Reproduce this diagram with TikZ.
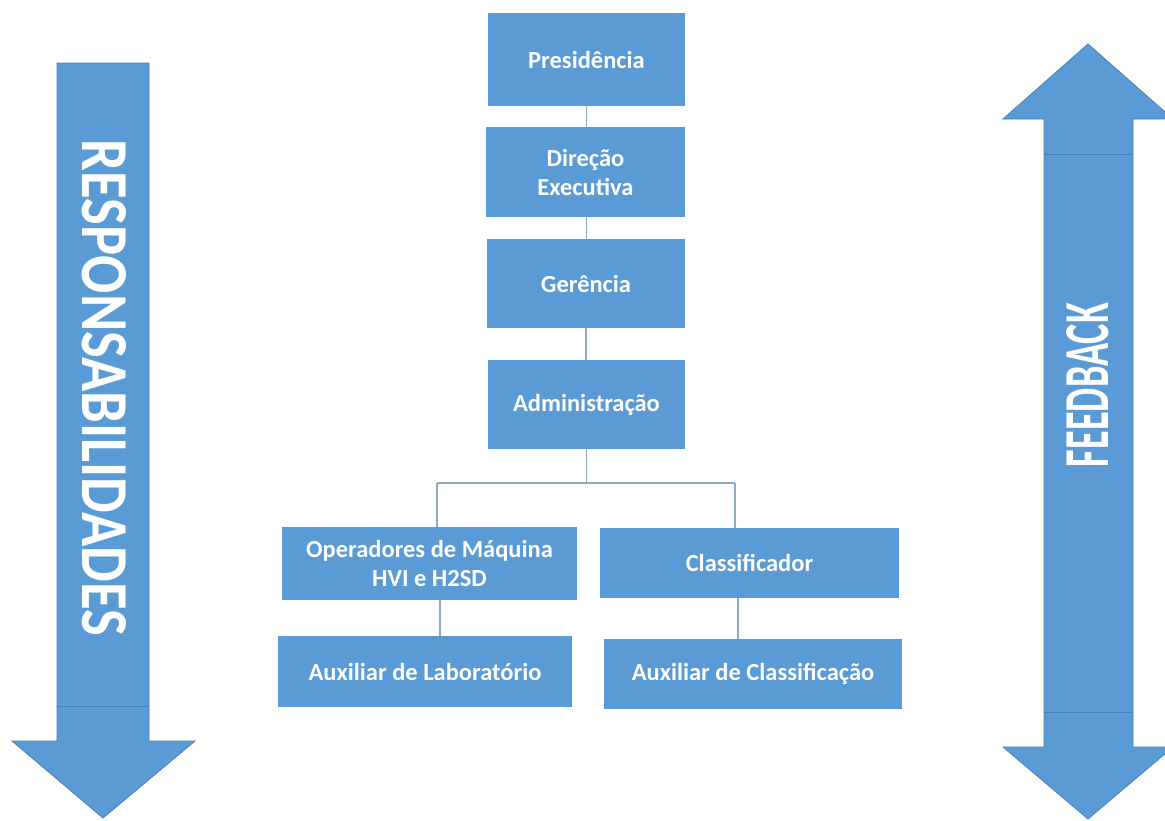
\documentclass[tikz,border=0pt]{standalone}
\usepackage{fontspec}
\setmainfont{Carlito}
\usepackage{graphicx}
\definecolor{boxblue}{HTML}{5B9BD5}
\definecolor{edgeblue}{HTML}{4A7FB5}
\definecolor{linkgray}{HTML}{8DA9C4}
\tikzset{
  orgbox/.style={fill=boxblue, draw=none, text=white, align=center,
    font=\bfseries\fontsize{24.5}{29}\selectfont, inner sep=0pt},
  link/.style={draw=linkgray, line width=1.2pt},
  bigarrow/.style={fill=boxblue, draw=edgeblue, line width=0.8pt, line join=miter},
  seam/.style={draw=edgeblue, line width=0.8pt},
  arrowtext/.style={text=white, inner sep=0pt, font=\bfseries}
}
\begin{document}
\begin{tikzpicture}[x=1pt,y=-1pt]
\useasboundingbox (0,0) rectangle (1165,820);
\clip (0,0) rectangle (1165,820);
\fill[white] (0,0) rectangle (1165,820);

% left arrow: responsabilidades
\draw[bigarrow] (57,63) -- (149,63) -- (149,741) -- (195,741) -- (103,818) -- (12,741) -- (57,741) -- cycle;
\draw[seam] (57,706) -- (149,706);
\node[arrowtext, rotate=-90] (resp) at (104,388) {\resizebox{496pt}{44pt}{RESPONSABILIDADES}};

% right double arrow: feedback
\draw[bigarrow] (1088,44) -- (1173,119) -- (1133,119) -- (1133,747) -- (1173,747) -- (1088,819) -- (1003,747) -- (1044,747) -- (1044,119) -- (1003,119) -- cycle;
\draw[seam] (1044,154) -- (1133,154);
\draw[seam] (1044,712) -- (1133,712);
\node[arrowtext, rotate=90] (feed) at (1088,385) {\resizebox{164pt}{42pt}{FEEDBACK}};

% org chart boxes
\node[orgbox, minimum width=197pt, minimum height=93pt] (pres) at (586.5,59.5) {Presidência};
\node[orgbox, minimum width=199pt, minimum height=90pt] (dir) at (585.5,172) {Direção\\Executiva};
\node[orgbox, minimum width=198pt, minimum height=89pt] (ger) at (586,283.5) {Gerência};
\node[orgbox, minimum width=197pt, minimum height=89pt] (adm) at (586.5,404.5) {Administração};
\node[orgbox, minimum width=295pt, minimum height=73pt] (op) at (429.5,563.5) {Operadores de Máquina\\HVI e H2SD};
\node[orgbox, minimum width=299pt, minimum height=70pt] (cls) at (749.5,563) {Classificador};
\node[orgbox, minimum width=294pt, minimum height=71pt] (auxlab) at (425,671.5) {Auxiliar de Laboratório};
\node[orgbox, minimum width=298pt, minimum height=70pt] (auxcls) at (753,674) {Auxiliar de Classificação};

% connectors
\coordinate (jL) at (437,483);
\coordinate (jR) at (735,483);
\draw[link] (pres.south) -- (pres.south |- dir.north);
\draw[link] ([xshift=1pt]dir.south) -- ([xshift=1pt]dir.south |- ger.north);
\draw[link] (ger.south) -- (ger.south |- adm.north);
\draw[link] (adm.south) -- (adm.south |- jL);
\draw[link] (jL) -- (jR);
\draw[link] (jL) -- (jL |- op.north);
\draw[link] (jR) -- (jR |- cls.north);
\draw[link] ([xshift=10.5pt]op.south) -- ([xshift=10.5pt]op.south |- auxlab.north);
\draw[link] ([xshift=-11.5pt]cls.south) -- ([xshift=-11.5pt]cls.south |- auxcls.north);
\end{tikzpicture}
\end{document}
